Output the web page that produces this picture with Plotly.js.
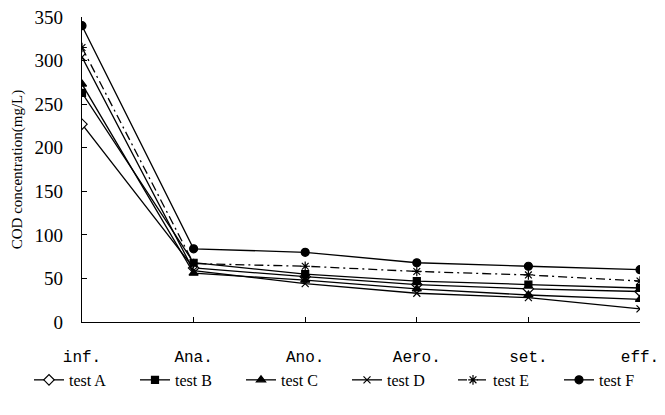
<!DOCTYPE html>
<html><head><meta charset="utf-8">
<script src="https://cdn.plot.ly/plotly-3.0.1.min.js"></script>
<style>html,body{margin:0;padding:0;background:#fff}#c{width:665px;height:415px}</style>
</head><body><div id="c"></div>
<script>
const categories = ["inf.", "Ana.", "Ano.", "Aero.", "set.", "eff."];
const testA = [227, 62, 52, 43, 38, 35];
const testB = [263, 68, 55, 47, 43, 39];
const testC = [273, 56, 48, 38, 31, 26];
const testD = [304, 59, 44, 33, 28, 15];
const testE = [315, 67, 64, 58, 54, 47];
const testF = [340, 84, 80, 68, 64, 60];
const yTicks = [0, 50, 100, 150, 200, 250, 300, 350];

function tr(name, y, symbol, size, dash, open) {
  return {
    x: categories, y: y, name: name, type: 'scatter', mode: 'lines+markers',
    line: {color: '#000', width: 1.3, dash: dash},
    marker: {symbol: symbol, size: size, color: open ? '#fff' : '#000',
             line: {color: '#000', width: 1.2}}
  };
}
const data = [
  tr('test A', testA, 'diamond', 8, 'solid', true),
  tr('test B', testB, 'square', 7, 'solid', false),
  tr('test C', testC, 'triangle-up', 8, 'solid', false),
  tr('test D', testD, 'x-thin-open', 7, 'solid', false),
  tr('test E', testE, 'asterisk-open', 8, '9px,4px,2px,4px', false),
  tr('test F', testF, 'circle', 8, 'solid', false)
];
const layout = {
  width: 665, height: 415,
  margin: {l: 82, r: 25, t: 17, b: 93},
  paper_bgcolor: '#fff', plot_bgcolor: '#fff',
  showlegend: true,
  legend: {orientation: 'h', x: -0.088, xanchor: 'left', y: -0.19, yanchor: 'middle',
           bgcolor: 'rgba(0,0,0,0)',
           font: {family: 'Liberation Serif', size: 16, color: '#000'},
           entrywidth: 61, entrywidthmode: 'pixels', itemwidth: 30},
  xaxis: {type: 'category', range: [0, 5], showgrid: false, zeroline: false,
          showline: true, linecolor: '#000', linewidth: 1.3,
          ticks: 'inside', ticklen: 5, tickcolor: '#000', ticklabelstandoff: 20,
          tickfont: {family: 'Liberation Mono', size: 16, color: '#000'}},
  yaxis: {range: [0, 350], tickvals: yTicks, showgrid: false, zeroline: false,
          showline: true, linecolor: '#000', linewidth: 1.3,
          ticks: 'inside', ticklen: 5, tickcolor: '#000', ticklabelstandoff: 14,
          tickfont: {family: 'Liberation Serif', size: 19, color: '#000'},
          title: {text: 'COD concentration(mg/L)', standoff: 8,
                  font: {family: 'Liberation Serif', size: 15, color: '#000'}}}
};
Plotly.newPlot('c', data, layout, {displayModeBar: false});
</script></body></html>
